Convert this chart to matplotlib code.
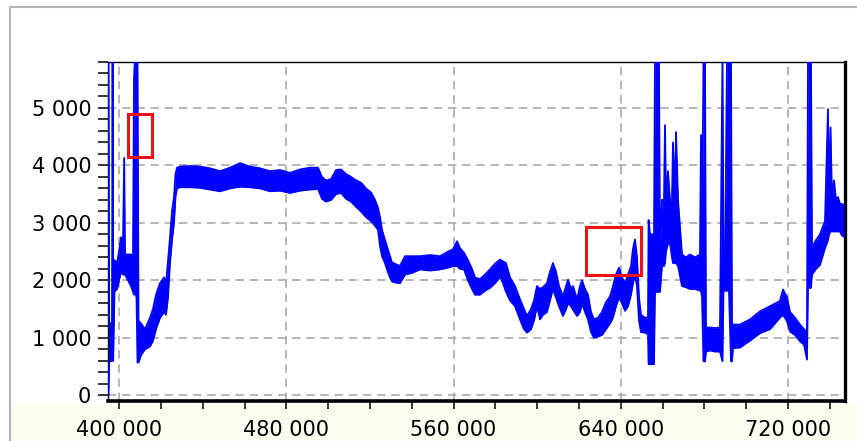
import matplotlib
matplotlib.use("Agg")
import matplotlib.pyplot as plt
from matplotlib.patches import Rectangle
from matplotlib.lines import Line2D
from matplotlib.ticker import MultipleLocator, FuncFormatter

# signal: low / high edge at each position
x_pos = [394880, 395220, 396550, 396840, 397130, 397750, 398950, 399900, 400860, 401820,
         402390, 402780, 404210, 405650, 406600, 407080, 407560, 408280, 408760, 409240,
         410430, 412350, 414740, 416170, 417610, 419520, 421440, 422390, 423350, 424310,
         425270, 426220, 426940, 427660, 429090, 433880, 438660, 443450, 448230, 453020,
         457800, 462590, 467370, 472160, 476940, 481730, 486510, 491300, 495130, 497040,
         498950, 501350, 503740, 506130, 508520, 510920, 513310, 515700, 518090, 520490,
         522400, 523840, 524790, 525750, 527190, 528140, 529580, 530530, 532450, 534360,
         536760, 540100, 543930, 548720, 553500, 557330, 559720, 561640, 563070, 564990,
         566900, 568810, 570250, 572640, 575040, 577430, 579820, 582210, 583650, 585080,
         587000, 589390, 591780, 593700, 595130, 597050, 598480, 599920, 601350, 602790,
         604700, 606140, 607570, 609010, 610440, 612360, 613790, 614750, 616190, 617140,
         619060, 620490, 621450, 622890, 624320, 625760, 627190, 629110, 631020, 632930,
         634850, 636280, 637720, 639150, 640590, 642030, 643460, 644900, 645850, 646810,
         647770, 648720, 649680, 651600, 653030, 653320, 653990, 655900, 656380, 658290,
         658770, 659730, 660690, 661170, 661640, 662600, 663560, 664520, 664990, 665950,
         666430, 667390, 669300, 671210, 673130, 675520, 677910, 678390, 678870, 679590,
         680310, 680780, 682700, 685090, 687480, 688680, 689160, 689880, 690830, 691790,
         692750, 693220, 693700, 697050, 701840, 706620, 711410, 716190, 717630, 719540,
         720980, 723370, 725760, 727680, 729110, 729590, 731030, 731500, 733420, 735330,
         737730, 739160, 739640, 740360, 741080, 742030, 742990, 743950, 744900, 745860,
         746820]
y_low = [0, 590, 600, 600, 600, 1800, 1850, 2000, 2150, 2100,
         2100, 2100, 2000, 1900, 1800, 1750, 1800, 1700, 570, 570,
         700, 800, 850, 950, 1150, 1350, 1450, 1400, 1700, 2300,
         2700, 3000, 3450, 3600, 3620, 3620, 3610, 3580, 3550, 3600,
         3630, 3620, 3600, 3550, 3560, 3520, 3560, 3580, 3590, 3420,
         3370, 3400, 3500, 3520, 3420, 3370, 3280, 3200, 3100, 3030,
         2950, 2880, 2600, 2420, 2300, 2190, 2050, 1980, 1960, 1950,
         2100, 2130, 2190, 2170, 2190, 2220, 2250, 2250, 2200, 2190,
         2000, 1850, 1750, 1750, 1820, 1870, 1950, 2060, 1950, 1800,
         1650, 1550, 1320, 1150, 1090, 1150, 1300, 1550, 1320, 1400,
         1450, 1650, 1850, 1700, 1550, 1380, 1500, 1600, 1550, 1490,
         1380, 1450, 1600, 1450, 1320, 1100, 1000, 1020, 1050, 1150,
         1250, 1350, 1550, 1700, 1600, 1470, 1550, 1750, 1950, 2100,
         1900, 1300, 1100, 1090, 1060, 540, 540, 540, 1800, 1800,
         1800, 2250, 2250, 2300, 2500, 2640, 2640, 2400, 2300, 2300,
         2300, 2250, 1900, 1880, 1850, 1850, 1820, 1820, 1700, 590,
         590, 760, 780, 760, 760, 590, 1820, 1820, 1820, 1820,
         590, 590, 820, 830, 950, 1080, 1150, 1350, 1400, 1290,
         1110, 1050, 940, 880, 620, 1870, 1870, 2100, 2200, 2270,
         2560, 2700, 2800, 2850, 2850, 2850, 2850, 2850, 2850, 2780,
         2760]
y_high = [5900, 1260, 1250, 5900, 1250, 2350, 2300, 2500, 2750, 2650,
          4130, 2450, 2450, 2450, 2400, 5500, 5900, 5900, 5900, 1300,
          1250, 1150, 1350, 1500, 1750, 1950, 2050, 1950, 2330, 2750,
          3200, 3450, 3850, 3960, 3980, 3990, 3980, 3950, 3900, 3960,
          4040, 3980, 3950, 3900, 3920, 3870, 3930, 3960, 3960, 3800,
          3740, 3760, 3920, 3930, 3850, 3800, 3740, 3700, 3600, 3530,
          3400, 3260, 3100, 2880, 2700, 2590, 2420, 2310, 2280, 2250,
          2420, 2420, 2420, 2440, 2420, 2500, 2540, 2680, 2560, 2480,
          2350, 2200, 2050, 2020, 2100, 2190, 2290, 2360, 2330, 2300,
          2050, 1900, 1670, 1500, 1380, 1500, 1650, 1900, 1850, 1880,
          1950, 2150, 2300, 2150, 1900, 1720, 1900, 2010, 1850, 1900,
          1670, 1900, 2000, 1850, 1750, 1450, 1320, 1350, 1450, 1620,
          1720, 1900, 2100, 2220, 2050, 1950, 2100, 2250, 2550, 2710,
          2400, 1700, 1400, 1350, 1350, 3050, 2800, 2800, 5900, 5900,
          2450, 3400, 3400, 4700, 3400, 3900, 3400, 3400, 4400, 3400,
          4580, 3400, 2450, 2400, 2450, 2400, 2450, 4530, 2450, 5900,
          5900, 1180, 1180, 1170, 1180, 5900, 2220, 2220, 5900, 5900,
          5900, 1230, 1230, 1230, 1320, 1460, 1550, 1640, 1840, 1700,
          1450, 1350, 1230, 1150, 1100, 5900, 5900, 2570, 2700, 2800,
          3030, 4980, 3300, 4660, 3430, 3740, 3400, 3450, 3330, 3330,
          3300]

x_ticks = [400000, 480000, 560000, 640000, 720000]
y_ticks = [0, 1000, 2000, 3000, 4000, 5000]

# highlighted boxes: (x, y, width, height)
boxes = [(404200, 4150, 11500, 750), (623400, 2100, 26300, 835)]

BLUE = "#0000ff"
plt.rcParams["font.family"] = ["DejaVu Sans"]

fig = plt.figure(figsize=(8.57, 4.41), dpi=100)
fig.patch.set_facecolor("white")

# panel look: cream strip at the bottom and grey frame line (behind the axes)
fig.patches.append(Rectangle((10 / 857, 0), 1, 36 / 441, transform=fig.transFigure,
                             facecolor="#fbfbee", edgecolor="none", zorder=-2))
fig.add_artist(Line2D([10 / 857, 10 / 857, 1], [0, 1 - 7 / 441, 1 - 7 / 441],
                      transform=fig.transFigure, color="#b4b4b4", lw=1.5, zorder=-1))

ax = fig.add_axes([108 / 857, 40 / 441, 737 / 857, 339 / 441])
ax.fill_between(x_pos, y_low, y_high, color=BLUE, lw=0, zorder=3)
ax.plot(x_pos, y_low, color=BLUE, lw=1.3, zorder=3)
ax.plot(x_pos, y_high, color=BLUE, lw=1.3, zorder=3)

for bx, by, bw, bh in boxes:
    ax.add_patch(Rectangle((bx, by), bw, bh, fill=False, edgecolor="#ee1111", lw=2.2, zorder=4))

ax.set_xlim(394640, 747300)
ax.set_ylim(-100, 5800)
ax.set_xticks(x_ticks)
ax.set_yticks(y_ticks)
ax.xaxis.set_minor_locator(MultipleLocator(20000))
ax.yaxis.set_minor_locator(MultipleLocator(200))
fmt = FuncFormatter(lambda v, p: f"{v:,.0f}".replace(",", " "))
ax.xaxis.set_major_formatter(fmt)
ax.yaxis.set_major_formatter(fmt)

ax.grid(True, which="major", color="#a9a9a9", linestyle=(0, (5, 3.5)), linewidth=1.2)
ax.set_axisbelow(True)
ax.tick_params(axis="both", which="both", direction="out", length=6, width=1.1,
               colors="black", labelsize=15)
ax.tick_params(axis="y", which="both", length=7, pad=5)
ax.tick_params(axis="x", which="major", pad=8)

ax.spines["top"].set_linewidth(1)
ax.spines["left"].set_linewidth(1)
ax.spines["right"].set_linewidth(2.4)
ax.spines["bottom"].set_linewidth(2.6)

fig.savefig("out.png", dpi=100)
